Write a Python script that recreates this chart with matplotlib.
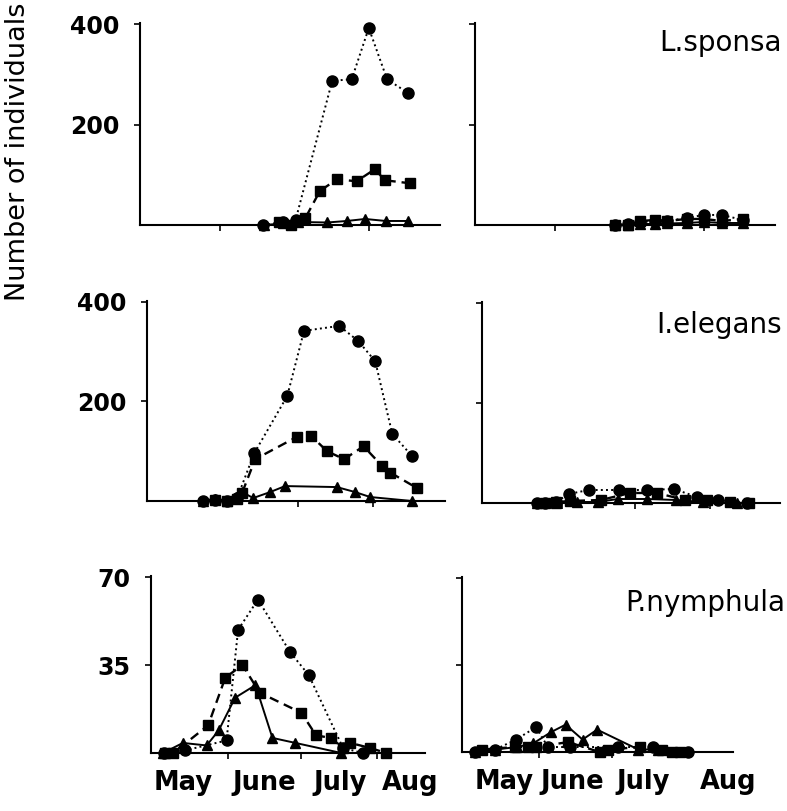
import matplotlib
matplotlib.use("Agg")
import matplotlib.pyplot as plt

plt.rcParams["font.family"] = ["DejaVu Sans"]

# x = day of season counted from 1 May, y = number of individuals
# month boundaries (1 June, 1 July, 1 Aug) and month label positions
month_ticks = [31, 61, 92]
month_names = ["May", "June", "July", "Aug"]
month_pos_left = [13, 46, 77, 105.5]
month_pos_right = [16.6, 44.6, 74, 109]

# L.sponsa, left
sponsa_l_circ_x = [48.6, 57, 62, 77, 85, 92, 99.5, 108]
sponsa_l_circ_y = [0, 6, 10, 287, 290, 392, 290, 263]
sponsa_l_sq_x = [55, 60, 66, 72, 79, 87, 94.5, 98.6, 109]
sponsa_l_sq_y = [6, 0, 14, 68, 91, 87, 111, 89, 83]
sponsa_l_tri_x = [49, 57, 63, 75, 83, 90.5, 99, 108]
sponsa_l_tri_y = [0, 3, 6, 5, 8, 12, 8, 8]

# L.sponsa, right
sponsa_r_circ_x = [55.6, 61, 66, 72, 77, 85, 92, 99.5, 108]
sponsa_r_circ_y = [0, 2, 6, 8, 8, 14, 20, 20, 10]
sponsa_r_sq_x = [55.6, 61, 66, 72, 77, 85, 92, 99.5, 108]
sponsa_r_sq_y = [0, 0, 8, 10, 8, 12, 12, 8, 12]
sponsa_r_tri_x = [55.6, 61, 66, 72, 77, 85, 92, 99.5, 108]
sponsa_r_tri_y = [0, 0, 2, 2, 3, 4, 6, 4, 4]

# I.elegans, left
elegans_l_circ_x = [22, 27, 32, 36, 43, 56.6, 63.5, 78, 85.7, 92.8, 99.8, 108]
elegans_l_circ_y = [0, 2, 0, 6, 96, 211, 342, 352, 322, 281, 135, 90]
elegans_l_sq_x = [27, 32, 36, 38, 43.4, 60.6, 66.4, 73, 80, 88, 95.7, 99, 110]
elegans_l_sq_y = [2, 0, 4, 16, 84, 129, 131, 100, 84, 110, 70, 57, 26]
elegans_l_tri_x = [22, 27, 32, 35.5, 38, 42.6, 49.6, 55.7, 77, 84.5, 90.7, 108]
elegans_l_tri_y = [0, 4, 0, 8, 18, 6, 18, 30, 28, 18, 8, 0]

# I.elegans, right
elegans_r_circ_x = [20.6, 24, 28.7, 33.7, 42, 54.6, 66, 77, 86.7, 95, 107]
elegans_r_circ_y = [0, 0, 2, 18, 26, 26, 26, 28, 12, 6, 0]
elegans_r_sq_x = [24, 28.7, 34.4, 47, 59, 70, 81.7, 90.7, 100, 108]
elegans_r_sq_y = [0, 2, 4, 6, 20, 20, 6, 6, 2, 0]
elegans_r_tri_x = [20.6, 28.7, 37, 45.7, 54, 66, 78, 89, 103]
elegans_r_tri_y = [0, 0, 2, 2, 8, 8, 6, 2, 0]

# P.nymphula, left
nymphula_l_circ_x = [5, 13.5, 30.5, 35.2, 43.3, 56.5, 64, 78, 86]
nymphula_l_circ_y = [0, 1, 5, 49, 61, 40, 31, 2, 0]
nymphula_l_sq_x = [5.4, 8.8, 23, 30, 37, 44, 61, 67, 73, 78, 81, 89, 95.6]
nymphula_l_sq_y = [0, 0, 11, 30, 35, 24, 16, 7, 6, 2, 4, 2, 0]
nymphula_l_tri_x = [4.6, 12.7, 22.4, 27.3, 34, 42.3, 49.2, 58.6, 77.3]
nymphula_l_tri_y = [0, 4, 3, 9, 22, 27, 6, 4, 0]

# P.nymphula, right
nymphula_r_circ_x = [4.8, 13, 21.6, 29.8, 34.7, 44, 63.6, 78, 92.4]
nymphula_r_circ_y = [0, 1, 5, 10, 2, 2, 2, 2, 0]
nymphula_r_sq_x = [7.6, 21, 26.3, 30, 43, 56, 59.5, 72.6, 81.6, 85.8, 89]
nymphula_r_sq_y = [1, 2, 2, 2, 4, 0, 1, 2, 1, 0, 0]
nymphula_r_tri_x = [4.8, 13, 22, 28.7, 36, 42, 49, 55, 72, 80]
nymphula_r_tri_y = [0, 1, 2, 3.5, 8, 11, 5, 9, 1, 1]

W, H = 787, 811
fig = plt.figure(figsize=(W / 100, H / 100), dpi=100)


def make_ax(x0, x1, ytop, ybot):
    return fig.add_axes([x0 / W, 1 - ybot / H, (x1 - x0) / W, (ybot - ytop) / H])


def draw_panel(ax, cx, cy, sx, sy, tx, ty, xlim, ylim, yt, ylabels, months=None):
    ax.plot(cx, cy, color="black", linestyle=":", linewidth=1.4, marker="o",
            markersize=8, clip_on=False)
    ax.plot(sx, sy, color="black", linestyle="--", linewidth=1.7, marker="s",
            markersize=6.5, dashes=(4, 2.5), clip_on=False)
    ax.plot(tx, ty, color="black", linestyle="-", linewidth=1.4, marker="^",
            markersize=6.5, clip_on=False)
    ax.set_xlim(*xlim)
    ax.set_ylim(*ylim)
    for s in ["top", "right"]:
        ax.spines[s].set_visible(False)
    for s in ["left", "bottom"]:
        ax.spines[s].set_linewidth(1.5)
    ax.set_yticks(yt)
    if ylabels:
        ax.set_yticklabels([str(v) for v in yt], fontsize=17, fontweight="bold")
    else:
        ax.set_yticklabels([])
    ax.set_xticks(month_ticks)
    ax.set_xticklabels([])
    ax.tick_params(axis="both", which="major", length=4.5, width=1.2, pad=10)
    if months is not None:
        ax.set_xticks(months, minor=True)
        ax.set_xticklabels(month_names, minor=True, fontsize=18.5, fontweight="bold")
        ax.tick_params(axis="x", which="minor", length=0, pad=12)


ax = make_ax(140, 440, 23, 225)
draw_panel(ax, sponsa_l_circ_x, sponsa_l_circ_y, sponsa_l_sq_x, sponsa_l_sq_y,
           sponsa_l_tri_x, sponsa_l_tri_y, (-1.8, 121.2), (0, 402), [200, 400], True)

ax = make_ax(475, 775, 23, 225)
draw_panel(ax, sponsa_r_circ_x, sponsa_r_circ_y, sponsa_r_sq_x, sponsa_r_sq_y,
           sponsa_r_tri_x, sponsa_r_tri_y, (-1.8, 121.2), (0, 402), [200, 400], False)
fig.text(782 / W, 1 - 43 / H, "L.sponsa", ha="right", va="center", fontsize=20)

ax = make_ax(147, 445, 301, 501)
draw_panel(ax, elegans_l_circ_x, elegans_l_circ_y, elegans_l_sq_x, elegans_l_sq_y,
           elegans_l_tri_x, elegans_l_tri_y, (-1.1, 121.5), (0, 402), [200, 400], True)

ax = make_ax(482, 780, 302, 503)
draw_panel(ax, elegans_r_circ_x, elegans_r_circ_y, elegans_r_sq_x, elegans_r_sq_y,
           elegans_r_tri_x, elegans_r_tri_y, (-1.9, 120.7), (0, 402), [200, 400], False)
fig.text(782 / W, 1 - 325 / H, "I.elegans", ha="right", va="center", fontsize=20)

ax = make_ax(151, 425, 576, 753)
draw_panel(ax, nymphula_l_circ_x, nymphula_l_circ_y, nymphula_l_sq_x, nymphula_l_sq_y,
           nymphula_l_tri_x, nymphula_l_tri_y, (-0.3, 111.4), (0, 70.4), [35, 70], True,
           months=month_pos_left)

ax = make_ax(462, 733, 577, 752)
draw_panel(ax, nymphula_r_circ_x, nymphula_r_circ_y, nymphula_r_sq_x, nymphula_r_sq_y,
           nymphula_r_tri_x, nymphula_r_tri_y, (-0.7, 111), (0, 70.4), [35, 70], False,
           months=month_pos_right)
fig.text(785 / W, 1 - 603 / H, "P.nymphula", ha="right", va="center", fontsize=20)

fig.text(18 / W, 1 - 152 / H, "Number of individuals", rotation=90,
         ha="center", va="center", fontsize=19.5)

fig.savefig("out.png", dpi=100)
